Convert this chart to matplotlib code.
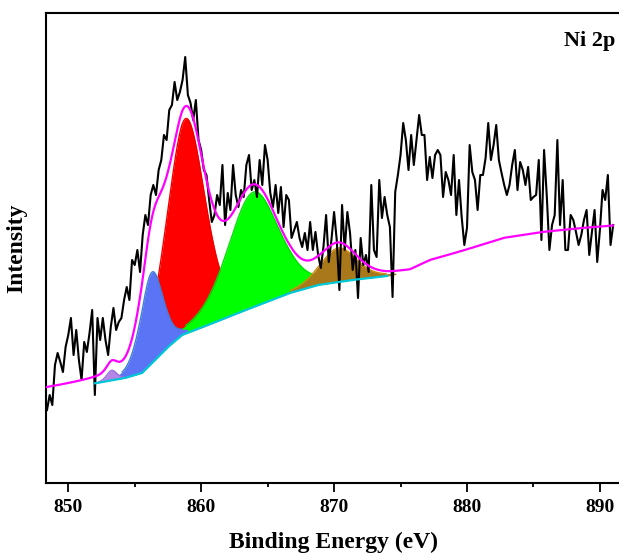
import numpy as np
import matplotlib
matplotlib.use("Agg")
import matplotlib.pyplot as plt

# ---------------- data ----------------
be_start = 848.4      # eV, first raw point
be_step = 0.2         # eV
raw_intensity = [
    73, 88, 78, 118, 130, 121, 111, 136, 148, 165,
    128, 153, 123, 103, 141, 131, 150, 173, 88, 165,
    143, 165, 143, 128, 156, 175, 153, 161, 165, 183,
    196, 183, 223, 218, 233, 211, 248, 268, 258, 288,
    298, 288, 313, 323, 348, 343, 373, 378, 401, 383,
    391, 403, 426, 388, 380, 363, 383, 343, 333, 313,
    308, 283, 261, 268, 288, 278, 318, 258, 290, 273,
    318, 288, 276, 293, 286, 318, 328, 293, 303, 286,
    323, 298, 338, 323, 290, 276, 298, 270, 296, 256,
    288, 283, 245, 253, 261, 245, 236, 250, 233, 261,
    233, 251, 228, 215, 236, 268, 221, 243, 271, 243,
    193, 278, 233, 271, 250, 213, 233, 185, 245, 218,
    228, 211, 298, 233, 226, 303, 265, 286, 268, 256,
    186, 291, 308, 328, 360, 343, 313, 348, 318, 343,
    368, 348, 348, 303, 326, 305, 328, 333, 328, 286,
    311, 303, 288, 328, 268, 303, 266, 238, 255, 338,
    311, 303, 273, 308, 308, 325, 360, 323, 338, 358,
    323, 310, 298, 288, 298, 318, 333, 293, 321, 313,
    298, 316, 283, 286, 288, 323, 243, 333, 288, 233,
    258, 268, 343, 258, 303, 233, 233, 268, 263, 251,
    238, 248, 263, 273, 228, 251, 273, 221, 253, 293,
    283, 308, 238, 258,
]

# Shirley-type background of the fit
bg_energy = [848.33, 852.16, 854.27, 855.55, 856.53, 857.50, 858.56, 859.54,
             860.52, 862.77, 865.33, 866.68, 868.79, 871.35, 872.70, 873.98,
             875.71, 877.22, 879.70, 882.71, 885.49, 888.28, 890.98]
bg_intensity = [93, 100, 105, 110, 123, 136, 148, 153,
                158, 170, 183, 190, 198, 203, 205, 207,
                211, 221, 231, 244, 250, 254, 257]

# fitted components (pseudo-Voigt)
peak_centers = [853.27, 856.28, 858.84, 863.92, 870.32]
peak_heights = [10, 91, 215, 115, 34]
peak_fwhm = [0.9, 2.0, 3.4, 4.5, 3.2]
peak_colors = ["#b685e8", "#5b73f5", "#ff0000", "#00ff00", "#a8781a"]
peak_edges = ["#9a6fd8", "#3f7fd6", "#f00000", "#00e000", "#d08a10"]
draw_order = [2, 3, 1, 0, 4]
lorentz_frac = 0.3

fit_start, fit_end = 852.0, 874.0
xticks = [850, 860, 870, 880, 890]
minor_xticks = [855, 865, 875, 885]
x_label = "Binding Energy (eV)"
y_label = "Intensity"
title_text = "Ni 2p"

# ---------------- figure ----------------
W, H = 619, 554
fig = plt.figure(figsize=(W / 100, H / 100), dpi=100)
left_px, right_px, top_px, bot_px = 46.2, 621, 13.3, 482.6
ax = fig.add_axes([left_px / W, 1 - bot_px / H,
                   (right_px - left_px) / W, (bot_px - top_px) / H])

energy = be_start + be_step * np.arange(len(raw_intensity))

grid = np.linspace(bg_energy[0], bg_energy[-1], 1500)
bg = np.interp(grid, bg_energy, bg_intensity)


def pvoigt(e, c, h, w, eta):
    x = (e - c) / (w / 2.0)
    return h * ((1 - eta) * np.exp(-np.log(2) * x ** 2) + eta / (1 + x ** 2))


comps = [pvoigt(grid, c, h, w, lorentz_frac)
         for c, h, w in zip(peak_centers, peak_heights, peak_fwhm)]
envelope = bg + np.sum(comps, axis=0)

for n, i in enumerate(draw_order):
    z = 2 + 0.1 * n
    top = bg + comps[i]
    mask = comps[i] > 0.04 * peak_heights[i]
    ax.fill_between(grid[mask], bg[mask], top[mask],
                    color=peak_colors[i], lw=0, zorder=z)
    emask = comps[i] > 0.07 * peak_heights[i]
    ax.plot(grid[emask], top[emask], color=peak_edges[i], lw=1.0,
            zorder=z + 0.05)

ax.plot(energy, raw_intensity, color="black", lw=1.5, zorder=3)

fm = (grid >= fit_start) & (grid <= fit_end)
ax.plot(grid[fm], bg[fm], color="#00c8d8", lw=1.6, zorder=4)
ax.plot(grid, envelope, color="#ff00ff", lw=1.6, zorder=5)

x_per_px = 0.07524
ax.set_xlim(848.34, 848.34 + (right_px - left_px) * x_per_px)
ax.set_ylim(0.4, 469.7)

ax.set_xticks(xticks)
ax.set_xticks(minor_xticks, minor=True)
ax.set_yticks([])
ax.tick_params(axis="x", which="major", direction="out", length=6.5,
               width=1.3, pad=5)
ax.tick_params(axis="x", which="minor", direction="out", length=3,
               width=1.3)
for lab in ax.get_xticklabels():
    lab.set_fontfamily("Liberation Serif")
    lab.set_fontweight("bold")
    lab.set_fontsize(14)

for s in ["left", "bottom", "top"]:
    ax.spines[s].set_linewidth(1.5)
ax.spines["right"].set_visible(False)

ax.set_xlabel(x_label, fontfamily="Liberation Serif", fontweight="bold",
              fontsize=17, labelpad=12)
ax.set_ylabel(y_label, fontfamily="Liberation Serif", fontweight="bold",
              fontsize=17, labelpad=14)
ax.text(0.9896, 0.941, title_text, transform=ax.transAxes,
        fontfamily="Liberation Serif", fontweight="bold", fontsize=16,
        ha="right", va="center")

fig.savefig("out.png", dpi=100)
